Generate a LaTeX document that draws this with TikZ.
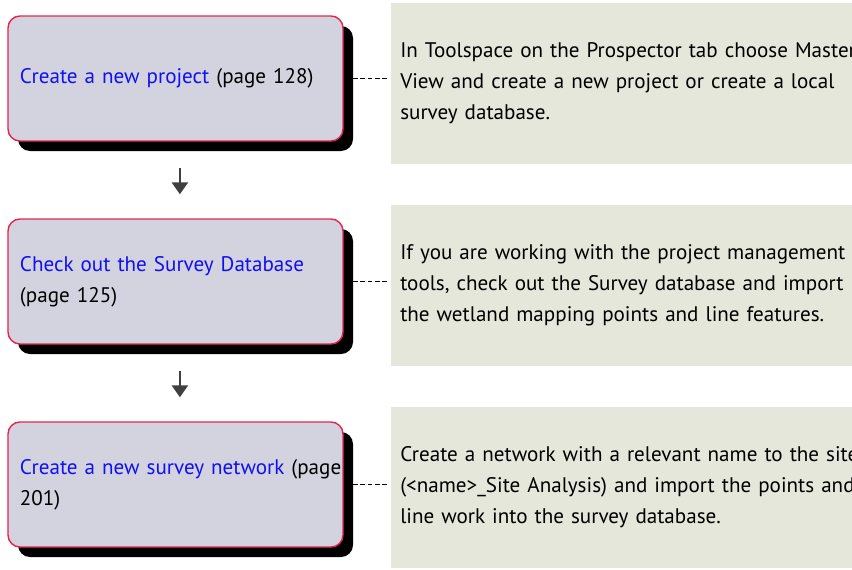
\documentclass[tikz,border=0pt]{standalone}
\usepackage{fontspec}
\setmainfont{PT Sans}
\usepackage{xcolor}
\usetikzlibrary{arrows.meta,positioning,shadows}

\definecolor{stepfill}{HTML}{D3D3DF}
\definecolor{stepline}{HTML}{E3264E}
\definecolor{notefill}{HTML}{E4E7D9}
\definecolor{linkblue}{HTML}{1010F0}
\definecolor{arrowgray}{HTML}{404040}

\begin{document}
\begin{tikzpicture}[
  font=\fontsize{15}{22}\selectfont,
  stepbox/.style={draw=stepline, line width=1pt, fill=stepfill, rounded corners=0.3cm,
    minimum width=8.375cm, minimum height=3.125cm, text width=7.775cm, inner xsep=0.3cm, align=left,
    drop shadow={shadow xshift=0.25cm, shadow yshift=-0.25cm, fill=black, opacity=1}},
  note/.style={fill=notefill, anchor=west, minimum height=4.025cm, text width=14cm, inner xsep=0.225cm, align=left},
  flow/.style={-{Triangle[width=0.4cm,length=0.3cm]}, line width=1.9pt, draw=arrowgray, shorten <=0.65cm, shorten >=0.6cm},
  link/.style={dash pattern=on 3.4pt off 1.8pt, line width=0.75pt, shorten <=0.05cm, shorten >=0.07cm}
]
\useasboundingbox (0,0) rectangle (21.3,-14.225);
\clip (0,0) rectangle (21.3,-14.225);

% steps on the left
\node[stepbox] (s1) at (4.3875,-1.9625) {\textcolor{linkblue}{Create a new project} (page 128)};
\node[stepbox] (s2) at (4.3875,-7.0375) {\textcolor{linkblue}{Check out the Survey Database}\\(page 125)};
\node[stepbox] (s3) at (4.3875,-12.1125) {\mbox{\textcolor{linkblue}{Create a new survey network} (page}\\201)};

% notes on the right
\node[note] (n1) at (9.775,-2.0875) {In Toolspace on the Prospector tab choose Master\\View and create a new project or create a local\\survey database.};
\node[note] (n2) at (9.775,-7.1375) {If you are working with the project management\\tools, check out the Survey database and import\\the wetland mapping points and line features.};
\node[note] (n3) at (9.775,-12.1875) {Create a network with a relevant name to the site\\(<name>\_Site Analysis) and import the points and\\line work into the survey database.};

\draw[flow] ([xshift=0.11cm]s1.south) -- ([xshift=0.11cm]s2.north);
\draw[flow] ([xshift=0.11cm]s2.south) -- ([xshift=0.11cm]s3.north);

\draw[link] (s1.east) -- (s1.east -| n1.west);
\draw[link] (s2.east) -- (s2.east -| n2.west);
\draw[link] (s3.east) -- (s3.east -| n3.west);
\end{tikzpicture}
\end{document}
